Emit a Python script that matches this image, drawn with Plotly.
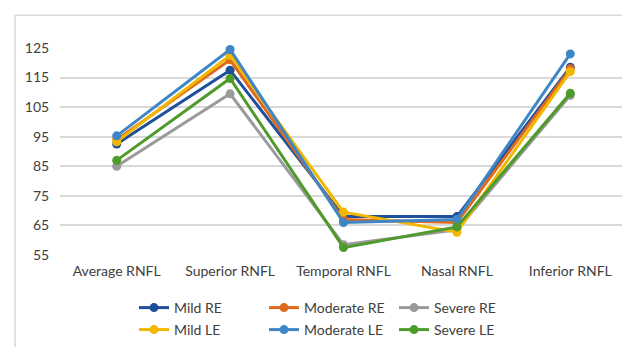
import plotly.graph_objects as go

categories = ["Average RNFL", "Superior RNFL", "Temporal RNFL", "Nasal RNFL", "Inferior RNFL"]
series_names = ["Mild RE", "Moderate RE", "Severe RE", "Mild LE", "Moderate LE", "Severe LE"]
mild_re = [92.5, 117.5, 68.0, 68.0, 118.5]
moderate_re = [94.0, 121.0, 67.0, 66.0, 118.0]
severe_re = [85.0, 109.5, 58.5, 63.5, 109.0]
mild_le = [93.3, 122.5, 69.5, 62.7, 117.0]
moderate_le = [95.3, 124.5, 66.0, 67.0, 123.0]
severe_le = [87.0, 114.7, 57.5, 64.5, 109.7]
y_ticks = [55, 65, 75, 85, 95, 105, 115, 125]

values = [mild_re, moderate_re, severe_re, mild_le, moderate_le, severe_le]
colors = ["#1F4E9A", "#E06A1B", "#9A9A9A", "#F2B800", "#3F86C6", "#4E9A2A"]
legends = ["legend", "legend", "legend", "legend2", "legend2", "legend2"]

fig = go.Figure()
for name, vals, col, lg in zip(series_names, values, colors, legends):
    fig.add_trace(go.Scatter(
        x=categories, y=vals, name=name, mode="lines+markers",
        line=dict(color=col, width=3),
        marker=dict(color=col, size=9),
        legend=lg, cliponaxis=False,
    ))

txt = dict(family="Lato, Open Sans, sans-serif", size=14, color="#404040")
W, H = 630, 347
ml, mr, mt, mb = 52, 11, 40, 99
pw, ph = W - ml - mr, H - mt - mb

def px2paper_x(px):
    return (px - ml) / pw

def px2paper_y(py):
    return (H - mb - py) / ph

fig.update_layout(
    width=W, height=H,
    margin=dict(l=ml, r=mr, t=mt, b=mb),
    paper_bgcolor="white", plot_bgcolor="white",
    font=txt,
    showlegend=True,
    legend=dict(orientation="h", x=px2paper_x(126), y=px2paper_y(300), xanchor="left", yanchor="middle",
                entrywidth=85, font=txt, bgcolor="rgba(0,0,0,0)"),
    legend2=dict(orientation="h", x=px2paper_x(126), y=px2paper_y(322), xanchor="left", yanchor="middle",
                 entrywidth=85, font=txt, bgcolor="rgba(0,0,0,0)"),
    xaxis=dict(showgrid=False, zeroline=False, showline=False, ticks="outside", ticklen=3,
               tickcolor="rgba(0,0,0,0)", tickfont=txt, range=[-0.5, 4.5]),
    yaxis=dict(range=[55, 125], tickvals=y_ticks, showgrid=True, gridcolor="#D9D9D9", gridwidth=1.5,
               zeroline=False, showline=False, ticks="outside", ticklen=7,
               tickcolor="rgba(0,0,0,0)", tickfont=txt),
    shapes=[dict(type="rect", xref="paper", yref="paper",
                 x0=px2paper_x(7), x1=px2paper_x(626), y0=px2paper_y(344), y1=px2paper_y(7),
                 line=dict(color="#D9D9D9", width=1.5), fillcolor="rgba(0,0,0,0)", layer="below")],
)

fig.write_html("out.html")
